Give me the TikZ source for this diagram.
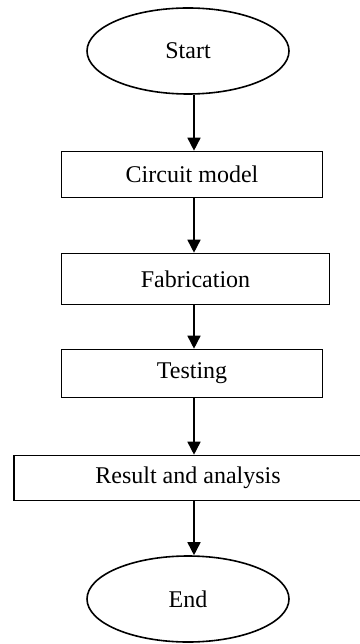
\documentclass[tikz,border=0pt]{standalone}
\usepackage{fontspec}
\setmainfont{Liberation Serif}
\usetikzlibrary{shapes.geometric,arrows.meta}
\begin{document}
\begin{tikzpicture}[x=1pt,y=-1pt,
  every node/.style={font=\fontsize{24}{28}\selectfont, inner sep=0pt, line width=1.6pt},
  term/.style={draw, ellipse, minimum width=202pt, minimum height=86pt},
  proc/.style={draw, rectangle, minimum height=#1},
  arr/.style={draw, line width=1.6pt, -{Triangle[width=13pt,length=13pt]}}]
\useasboundingbox (0,0) rectangle (359,644);
\node[term] (start) at (188,51) {Start};
\node[proc=46pt, minimum width=261pt] (circ) at (192,174.5) {Circuit model};
\node[proc=51pt, minimum width=268pt] (fab) at (195.5,279) {Fabrication};
\node[proc=48pt, minimum width=261pt] (test) at (192,373.5) {Testing};
\node[proc=45pt, minimum width=348pt] (res) at (188,478) {Result and analysis};
\node[term] (end) at (188,599) {End};
\coordinate (ax) at (194,0);
\draw[arr] (ax |- start.south) -- (ax |- circ.north);
\draw[arr] (ax |- circ.south) -- (ax |- fab.north);
\draw[arr] (ax |- fab.south) -- (ax |- test.north);
\draw[arr] (ax |- test.south) -- (ax |- res.north);
\draw[arr] (ax |- res.south) -- (ax |- end.north);
\end{tikzpicture}
\end{document}
